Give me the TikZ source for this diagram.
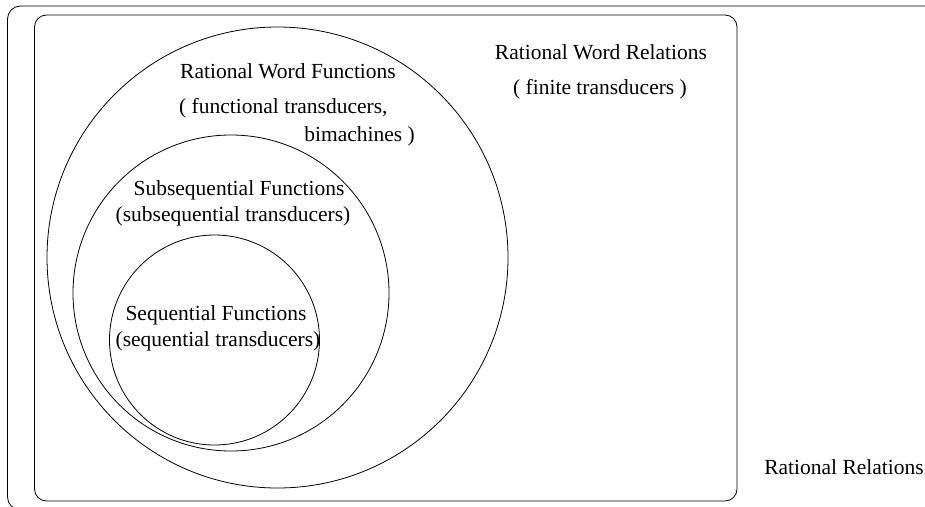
\documentclass[tikz,border=0pt]{standalone}
\usepackage{fontspec}
\setmainfont{Liberation Serif}
\begin{document}
\begin{tikzpicture}[x=1pt,y=-1pt,
  frame/.style={draw, line width=0.8pt, inner sep=0pt},
  ring/.style={draw, circle, line width=0.8pt, inner sep=0pt},
  txt/.style={font=\fontsize{21.5}{26}\selectfont, inner sep=0pt, anchor=base}]
\useasboundingbox (0,0) rectangle (925,506);
\clip (0,0) rectangle (925,506);

% outer class: rational relations (runs off the page on the right and bottom)
\node[frame, rounded corners=13pt, minimum width=937.5pt, minimum height=504pt] (rel) at (476.25,258) {};
% rational word relations
\node[frame, rounded corners=12pt, minimum width=702.5pt, minimum height=486pt] (wrel) at (385.75,258) {};

% nested function classes
\node[ring, minimum size=461pt] (rwf) at (277.5,257.5) {};
\node[ring, minimum size=316pt] (subseq) at (231,293) {};
\node[ring, minimum size=210pt] (seq) at (214.5,340) {};

% labels
\node[txt] (trel) at (601,59) {Rational Word Relations};
\node[txt] (tfin) at (600,94) {( finite transducers )};
\node[txt] (trwf) at (288,78) {Rational Word Functions};
\node[txt, anchor=base west] (tfun) at (179,113) {( functional transducers,};
\node[txt, anchor=base east] (tbim) at (415,141) {bimachines )};
\node[txt] (tsub) at (239,195) {Subsequential Functions};
\node[txt] (tsubt) at (233,221.5) {(subsequential transducers)};
\node[txt] (tseq) at (216,320) {Sequential Functions};
\node[txt] (tseqt) at (218,346.5) {(sequential transducers)};
\node[txt] (trr) at (844,474) {Rational Relations};
\end{tikzpicture}
\end{document}
